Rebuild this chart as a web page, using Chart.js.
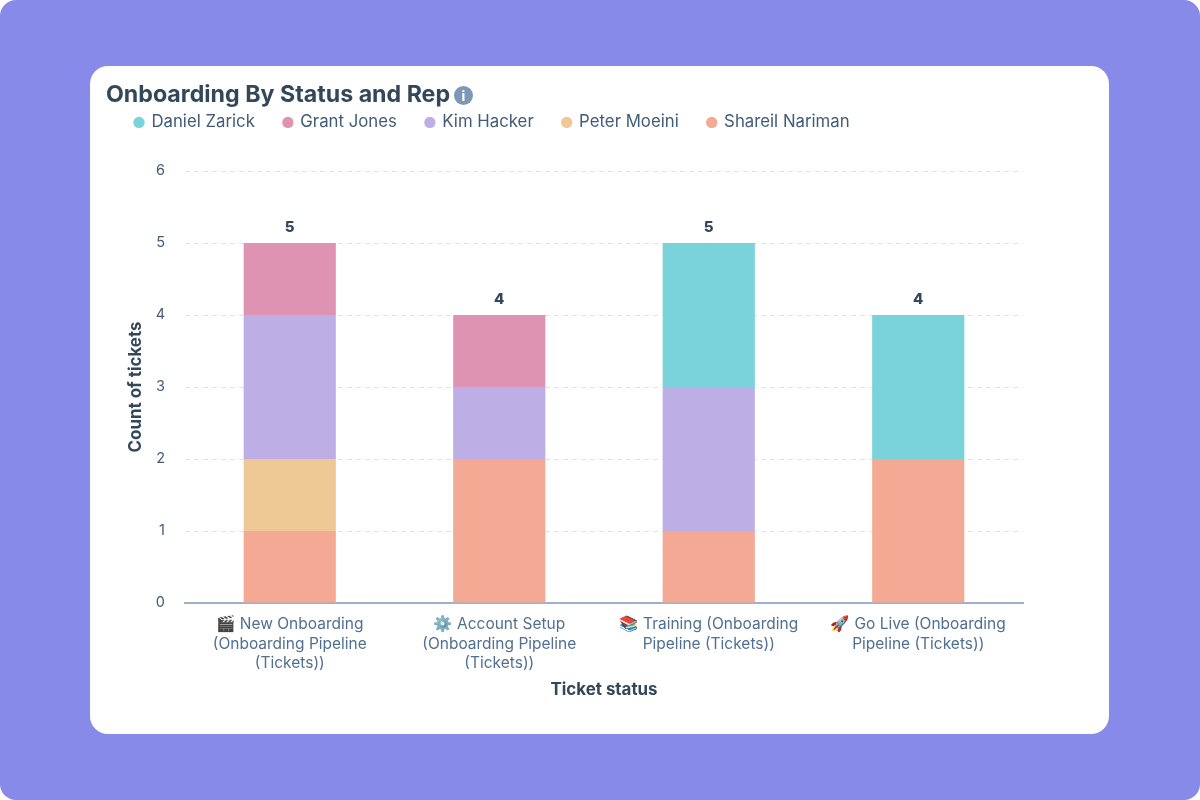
<!DOCTYPE html>
<html><head><meta charset="utf-8">
<script src="https://cdn.jsdelivr.net/npm/chart.js@4"></script>
<style>
html,body{margin:0;padding:0;background:#fff;}
#bg{position:absolute;left:0;top:0;width:1200px;height:800px;background:#878AE9;border-radius:16px;}
#card{position:absolute;left:90px;top:66px;width:1019px;height:668px;background:#fff;border-radius:18px;overflow:hidden;}
canvas{display:block;}
</style></head>
<body><div id="bg"></div><div id="card"><canvas id="c" width="1019" height="668" style="width:1019px;height:668px"></canvas></div>
<script>
const categories = [
  ["🎬 New Onboarding","(Onboarding Pipeline","(Tickets))"],
  ["⚙️ Account Setup","(Onboarding Pipeline","(Tickets))"],
  ["📚 Training (Onboarding","Pipeline (Tickets))"],
  ["🚀 Go Live (Onboarding","Pipeline (Tickets))"]
];
const shareilNariman = [1,2,1,2];
const peterMoeini = [1,0,0,0];
const kimHacker = [2,1,2,0];
const grantJones = [1,1,0,0];
const danielZarick = [0,0,2,2];
const totals = [5,4,5,4];
const yTicks = [0,1,2,3,4,5,6];
const font = "Inter, 'Noto Color Emoji', sans-serif";
const ink = "#33475B";

const totalLabels = {
  id:'totalLabels',
  afterDatasetsDraw(chart){
    const {ctx,scales:{x,y}} = chart;
    ctx.save();
    ctx.font = "800 15px "+font;
    ctx.fillStyle = ink;
    ctx.textAlign='center';ctx.textBaseline='bottom';
    totals.forEach((t,i)=>ctx.fillText(String(t),x.getPixelForValue(i),y.getPixelForValue(t)-8));
    ctx.restore();
  }
};
const infoIcon = {
  id:'infoIcon',
  afterDraw(chart){
    const {ctx}=chart; const cx=373.5, cy=29.5;
    ctx.save();
    ctx.fillStyle="#7C98B6";ctx.beginPath();ctx.arc(cx,cy,9.5,0,Math.PI*2);ctx.fill();
    ctx.fillStyle="#fff";ctx.font="bold 14px "+font;ctx.textAlign='center';ctx.textBaseline='middle';
    ctx.fillText("i",cx,cy+1);
    ctx.restore();
  }
};
const legendFit = {
  id:'legendFit',
  beforeInit(chart){
    const f = chart.legend.fit;
    chart.legend.fit = function(){ f.call(this); this.height = 86; };
  }
};
const ds=(label,data,color)=>({label,data,backgroundColor:color,hoverBackgroundColor:color,borderWidth:0,barPercentage:0.44,categoryPercentage:1});
new Chart(document.getElementById('c'),{
  type:'bar',
  data:{labels:categories,datasets:[
    ds('Shareil Nariman',shareilNariman,'#F3A993'),
    ds('Peter Moeini',peterMoeini,'#EEC895'),
    ds('Kim Hacker',kimHacker,'#BDAEE6'),
    ds('Grant Jones',grantJones,'#DE93B2'),
    ds('Daniel Zarick',danielZarick,'#7AD2DA')
  ]},
  options:{
    responsive:false,animation:false,devicePixelRatio:1,
    layout:{padding:{left:16,right:86,top:15,bottom:34}},
    plugins:{
      tooltip:{enabled:false},
      title:{display:true,text:'Onboarding By Status and Rep',align:'start',color:ink,font:{family:font,size:23.2,weight:'700'},padding:{top:0,bottom:-23.84}},
      legend:{position:'top',align:'start',labels:{
        usePointStyle:true,pointStyle:'circle',boxWidth:8,boxHeight:8,padding:29,
        color:'#425B76',font:{family:font,size:16.8},
        sort:(a,b)=>b.datasetIndex-a.datasetIndex
      }}
    },
    scales:{
      x:{stacked:true,
        afterFit(s){s.height=97;},
        grid:{display:false},
        border:{color:'#9DB1CC',width:2},
        ticks:{color:'#516F90',font:{family:font,size:15.5,lineHeight:1.26},maxRotation:0,minRotation:0,padding:4,autoSkip:false},
        title:{display:true,text:'Ticket status',color:ink,font:{family:font,size:16.9,weight:'700'},padding:{top:0,bottom:0}}
      },
      y:{stacked:true,min:0,max:6,
        afterBuildTicks(s){s.ticks=yTicks.map(v=>({value:v}));},
        afterFit(s){s.width=79;},
        grid:{color:'#DFE3EB',lineWidth:1,drawTicks:false},
        border:{display:false,dash:[5,4]},
        ticks:{color:'#425B76',font:{family:font,size:14.5},padding:20},
        title:{display:true,text:'Count of tickets',color:ink,font:{family:font,size:16.9,weight:'700'},padding:{top:20,bottom:0}}
      }
    }
  },
  plugins:[totalLabels,infoIcon,legendFit]
});
</script></body></html>
